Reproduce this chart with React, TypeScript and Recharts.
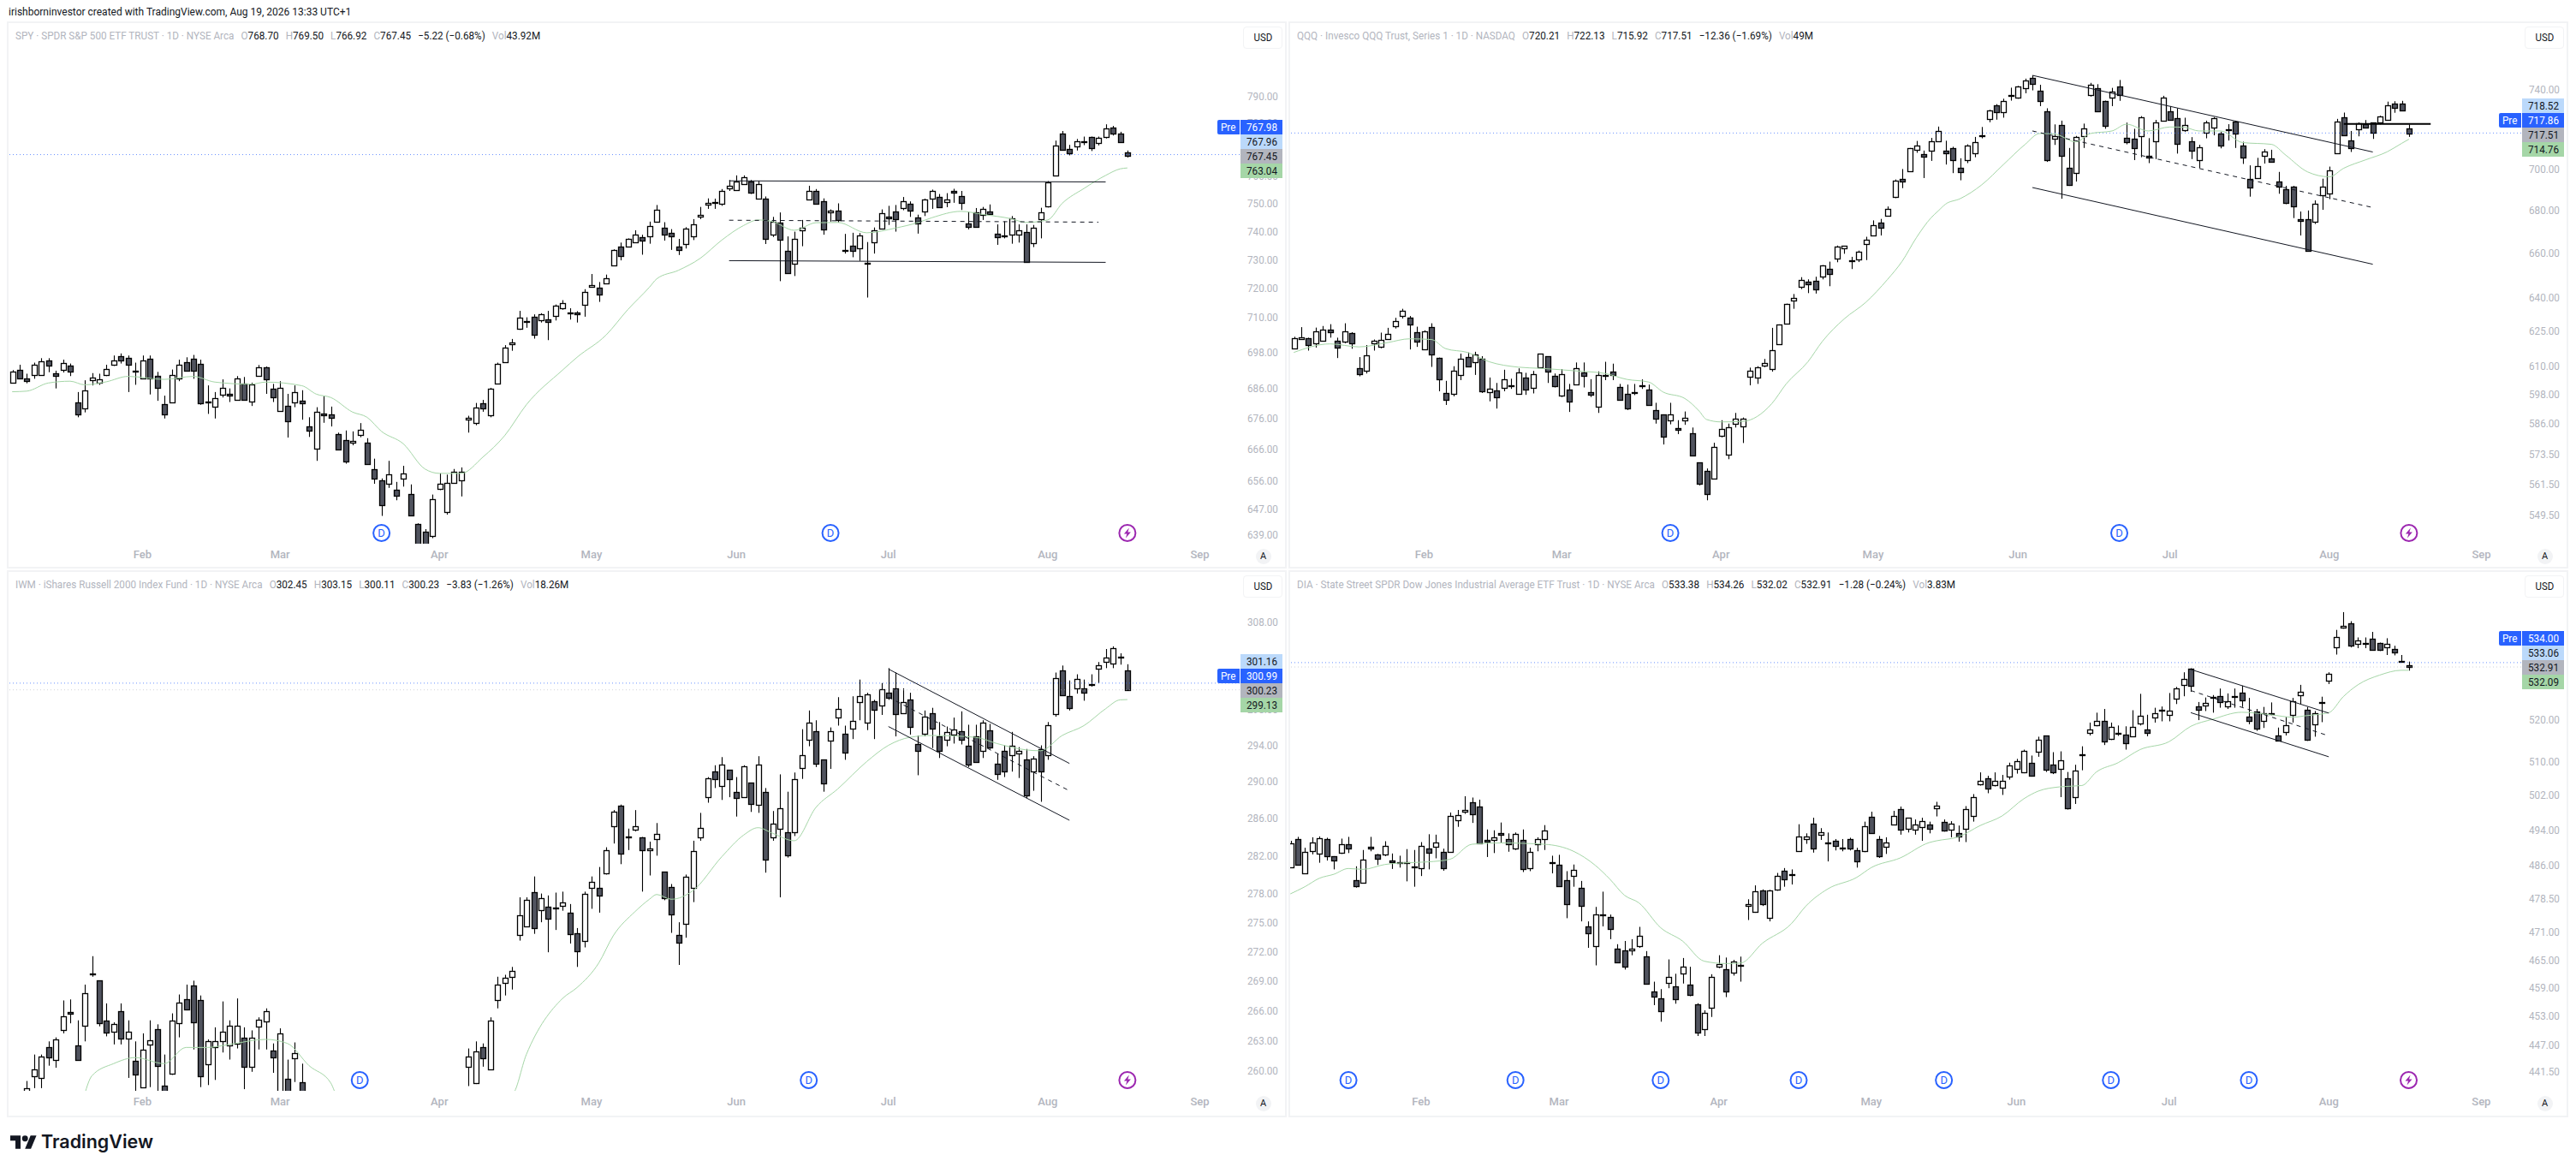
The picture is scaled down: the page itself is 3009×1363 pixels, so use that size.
import React from 'react';
import { ComposedChart, Bar, Line, XAxis, YAxis, ReferenceLine } from 'recharts';

type Candle = number[] | null; // [open, high, low, close]

const SLOTS = 170;
const monthTicks = [18, 37, 59, 80, 100, 121, 143, 164];
const monthLabels = ['Feb', 'Mar', 'Apr', 'May', 'Jun', 'Jul', 'Aug', 'Sep'];

const spyCandles: Candle[] = [
  [687.7,692,687.7,691.6],[692.1,693.8,689.1,689.1],[689.3,690.8,687.6,688.5],[690.3,694.5,689.1,693.9],[690.3,696,690.3,695],
  [695.2,696,691.3,693.5],[690.8,691.8,685.9,690],[692,695.5,691.2,694.4],[693.6,694.2,690,691.5],[681.2,684.7,676.4,677.4],
  [679.4,688.6,678,685.1],[688.6,691,686.9,689.4],[687.7,690.8,687.1,688.9],[690.3,693.8,690,692.4],[693.7,696.9,693.4,695.2],
  [696.6,697.6,694.2,695.1],[696,696.9,684.7,693.7],[691.9,694.5,687.1,691.7],[689.1,696.9,689.1,695.2],[695.8,696.9,683.9,689.1],
  [690,691.4,681.8,686],[680.7,683.5,676,677.4],[681.2,692.2,681.1,690.3],[689.1,695.5,688.3,693.7],[694.6,696.3,691.8,691.8],
  [695.9,697.1,689.1,691.8],[694.1,695.5,680.5,681],[681.6,686.9,677.5,681.5],[679.9,684.7,676,682.7],[683.7,688.9,682.9,686],
  [684.1,685.9,681.4,683.5],[682.1,690,681.9,689.1],[687.4,689.7,681.9,682.1],[681.6,687.8,680.1,687.1],[690,693.7,690,692.9],
  [692.9,693.2,684.1,688.8],[685.9,687.4,681.4,682.9],[678.5,688.3,678.2,686],[680.1,684.1,669.8,675],[681.2,686.9,679.7,684.8],
  [681.8,685.3,675.6,681],[673.3,676.4,670,672.1],[666.2,679.7,662.3,678.1],[677.6,683.3,674.6,677.1],[677.4,679.9,673.4,676.2],
  [671,671.4,665.9,665.9],[669,672.1,661.4,662.1],[668.1,671.8,667.3,668.7],[670.6,674.5,669.9,672.4],[668.1,669.6,661.2,661.2],
  [659.6,663,655,656.7],[656.2,656.7,644.9,648.2],[655.1,662.3,653.7,657.9],[653.1,655.6,649.8,651.2],[656.5,660.7,654.1,658.4],
  [651.7,654.8,644.9,645.1],[642.5,642.6,632,634.8],[640.1,640.8,630,632.6],[638.8,651.6,638,650.1],[653.5,658.3,653,655],
  [646.2,657.9,645.3,655.4],[655.4,659.7,655.2,658.7],[656.2,660.2,651,658.9],[675.6,676.9,671.4,676.2],[674.6,681.1,673.8,679.6],
  [681,682.1,678.2,679.3],[677,686.1,676.4,685.9],[687.4,694.5,687.4,694.1],[694.8,700.4,694.5,699.6],[700.6,702.5,698.5,701.2],
  [705.9,712.1,705.6,709.8],[708.5,709.9,706.3,708.6],[710,710.9,702.6,703.9],[708.8,711.3,708.1,710.9],[709.1,712.1,702.1,708.4],
  [710.5,714.3,708.8,713.8],[713,715.8,712.5,714.9],[711.3,713,709.1,711.4],[711.4,712,708.1,710.9],[714.3,719.6,710.1,718.5],
  [720.5,724.9,720.3,721.1],[720,722.1,715.2,717.8],[721.5,724.7,721.5,723.5],[728,733.6,728,733.4],[734.5,736,729.7,731.3],
  [734.7,737.5,734.4,737.3],[736.1,740.4,736.1,738.8],[737.9,738.8,731.7,736.8],[738.2,743.5,735.6,742],[743.5,749.5,743.5,747.9],
  [741.3,743.3,736.7,738.8],[739.5,740.8,733.4,738.2],[734.5,737.3,731.6,733.4],[735.5,741.5,733.9,740.9],[738.2,744.4,736.9,742.5],
  [745.3,748.8,744.4,746],[749.7,751.9,748.1,750.4],[750.7,751.8,748.1,750.3],[750,755.3,749.2,754.5],[755.7,758.6,754.6,756.4],
  [755,760.3,754.9,758.2],[757,760.3,756.9,759.6],[758.1,758.6,753.5,754.1],[751.9,758.2,751.6,757],[751.9,752.6,735.5,737.3],
  [738.8,745.2,738,743.3],[743.2,746.8,722.4,736.9],[733.1,738.2,725.2,725.2],[728.6,739.9,724.2,737.3],[740.4,744.1,734.7,741.3],
  [751.6,756.5,751.5,754.7],[754.6,755.3,750,750],[750.9,751.9,738.8,740.7],[746.7,747.9,743.5,747.6],[747.6,750.1,743.2,744.1],
  [733.5,739.1,732.1,733.4],[734.9,739.5,730.8,733],[733.9,739.4,729.5,738.5],[728.7,736.2,716.7,728.5],[736.1,741.4,732.1,740.5],
  [740.9,747.9,740.9,746.5],[745.3,749.2,742.3,744.7],[747.2,749.5,739.9,744.4],[748.5,752.4,747.6,750.9],[750,750.8,745.2,747.6],
  [745.1,746,739.2,742.8],[747.2,751.8,745.5,751.6],[751.9,755.1,748.1,754.7],[752.3,753.5,748.4,748.8],[750.7,753.8,748.7,751.6],
  [754.5,755.4,750.3,754.1],[752.6,754.6,747.7,750.4],[742.9,747.1,740.7,741.6],[746.9,748.4,741.5,741.6],[746,748.8,744.1,748.1],
  [747.2,749.7,746.1,746.3],[739.1,742.5,735.2,737.9],[738.6,743.6,737.5,738.2],[738.8,745.5,735.6,744.8],[738.8,742.5,736,740.3],
  [739.7,742.5,729.1,729.1],[735.7,742.3,734.4,741.3],[744.4,748.5,737.5,746.7],[748.9,758.2,748.6,757.7],[760.4,773.2,760.3,771.2],
  [775.7,776.8,769.5,769.6],[770,771.6,767.7,768.4],[770.9,773.8,769.5,773.1],[772.8,774.7,771.5,772.6],[774.5,774.7,769.3,770.3],
  [772.3,774.7,771.4,774.3],[774.7,779.3,774,777.6],[778.2,778.7,775.1,775.9],[775.9,776.5,772.4,772.6],[768.7,769.5,766.92,767.45],
];

const qqqCandles: Candle[] = [
  [617.5,622.5,617.3,621.9],[621.6,626.7,621.3,622.4],[621.7,622.1,616.5,619],[619.8,626.5,617.8,624.9],[620.9,627.2,620.6,625.7],
  [625.7,628,622.1,624.6],[620.9,622.1,613.3,617.9],[620.2,628.4,619.7,624.9],[624,624.5,617.3,619.7],[609.1,613.7,605.5,606.4],
  [608,618.9,606.7,614.6],[619.5,621.3,616.5,620.8],[618.3,624.3,617.5,621.3],[621.4,626.4,621.3,623.8],[627.2,630.8,626.1,629.4],
  [631.6,634.8,630.5,633.9],[630.9,631.6,617,628],[624.3,626.9,618.1,620.5],[617.1,625.3,617,624.8],[626.9,628.4,609.5,614.9],
  [613.5,613.5,599.2,604.2],[598.5,603.6,593.5,595.5],[598.3,609.8,597.1,607.9],[606,615.2,603.9,612.9],[613.8,615.7,609.7,609.7],
  [611.6,616,606.1,614.9],[613,614.1,598.5,599.1],[598.8,605,595,600.3],[599.5,602.7,592,596.6],[600.6,608.3,599.2,604.2],
  [601.7,604.5,600.2,601.3],[598.3,608.9,598,607.2],[604.8,607,597.7,599.8],[600.6,607.8,598.3,606.4],[609.4,615.2,609.4,615.2],
  [614.1,614.1,602.7,607.5],[605.8,606.7,600.8,601.3],[597.4,608.6,596.8,606.4],[599.8,602.3,590.6,594.8],[602,611.4,602,609],
  [607.2,611.4,600.8,605.6],[598.8,604.3,596.8,597.9],[592.7,607.6,590.2,606.1],[606.1,611.7,603.9,605.9],[607.5,610.9,603.9,606.1],
  [600.9,602.3,595.6,595.6],[598,602,591.4,592],[598.8,602.3,597.6,598.6],[601.6,604.2,600.2,601.4],[599.8,602,593.5,593.5],
  [591.4,594.4,585.8,587.8],[589.6,589.6,577.3,580.4],[587.2,594.4,585.5,589.6],[584,587.2,581.5,583.3],[587.2,590.8,585.3,588.2],
  [581.9,584.2,572.9,572.9],[570.1,570.1,561,561.6],[566.8,567.7,555.2,557.5],[563.6,578,563.6,576.4],[580.9,587.2,580.2,583.7],
  [573.2,585.8,571.4,584.3],[585.6,590.2,584.2,587.8],[584.6,588.3,577.9,587.8],[605.2,609.2,601.7,607.9],[604.9,609.8,602.3,609.4],
  [610,612.9,609.4,611.3],[608.6,626.4,607.5,616.8],[619.4,627.9,619.4,627.9],[628.2,637.1,627.9,636.9],[638.5,641.4,634.8,639.8],
  [644.7,649,643.6,647.7],[646.9,648,641.8,645.7],[647.2,649.2,641.6,643.6],[649.2,654.5,648,654.2],[652.7,656.1,644.9,650.3],
  [657.3,663.5,655.8,663],[662.1,663.3,659.7,663.3],[656.8,658.3,652.7,656.6],[657.2,661.2,655.9,660.5],[664.3,667.6,656.8,666.4],
  [668.2,675.3,668.2,673.2],[674.1,676,668.2,672],[677.4,681.9,677.4,680.8],[686.6,694.9,685.9,694.5],[695.3,700,690.7,694],
  [698.9,710.4,698.7,710.4],[709.3,713.9,708,711.8],[707.3,709.1,695.6,706],[709.1,715.4,704,713.7],[713.8,721.1,713.4,718.7],
  [708.9,714,702.2,707.6],[710.2,711,698,704.5],[700.4,705.3,694.5,698.7],[704.4,712.2,702.9,711.8],[707.8,715.9,705.8,713.3],
  [716.3,720.9,715.2,716.9],[724.8,729.6,723.3,729.1],[731.7,732.5,724.6,728.3],[728.3,735.3,725.6,734.3],[737,741,734.3,736.6],
  [735.7,741.9,735.3,741.5],[740.9,745.7,738.1,744.9],[745.9,747.4,739.6,742.8],[739.2,742.5,731.5,734.3],[728.7,730.4,703.5,704.4],
  [714.9,722.2,711.9,716.5],[721.7,724.1,685.6,706.7],[700.4,710.4,691.8,692.3],[697.9,716.4,693.9,715.8],[716.5,722.6,710.4,720],
  [737,743.5,736.4,742.6],[740.9,742.8,728.5,728.7],[734,734.3,720,721.3],[735.7,740.9,731.5,739],[741.5,745,734.2,737.4],
  [715.3,723.1,712.2,713.1],[714.9,720,704.4,710.2],[716.2,726.4,705.8,725.6],[706.7,715.3,702.9,705.8],[713.6,724.5,704.9,723.4],
  [723.9,736.8,723.7,736],[728.7,731.5,724.4,724.6],[725.4,730.4,707.6,712.4],[719.5,725.6,718.5,722],[713.6,715.8,704.9,708.9],
  [704.5,712,700.4,710.9],[717.8,724.1,715.2,723.1],[720.6,725.9,716.7,725.2],[717.4,718.5,710.2,711.6],[719.6,722.3,714.1,719.1],
  [723.6,724.1,710.4,717.4],[711.5,713.5,702.5,705.5],[695,701.8,686.6,691.1],[695.6,705.5,695.3,701.6],[706.4,709.8,702.7,708.5],
  [705.1,709.5,703.2,703.5],[694.1,698.6,688,691.6],[690,691.8,683,683.7],[691.3,691.8,676.4,682],[675.9,679.5,668.2,675.2],
  [675.7,680,661.2,661.2],[674.8,684.8,673.6,683.3],[687.4,695.3,680.3,691.6],[688,701.2,685.4,699.5],[707.9,725,707.6,723.6],
  [725.6,728.2,716.7,716.9],[714,718.9,708.4,710.5],[719.6,723.2,716.2,722.6],[722.2,724.4,720.4,720.6],[723,723.2,714.9,717.8],
  [723,726.6,722.2,726.4],[724.6,733.8,724.1,731.7],[733,734,728.1,730.4],[732.7,734.2,729,729.4],[720.21,722.13,715.92,717.51],
];

// most of IWM's early candles sit below the visible price range, those are null
const iwmCandles: Candle[] = [
  null,null,[257.3,259,257,258.3],[259.5,261.6,258.3,260.1],[259.3,261.6,258.3,261.4],
  [262.3,262.9,260.5,261.3],[261.1,263.3,260.3,263.1],[264,267,263.7,265.4],[265.8,267.1,264.7,265.7],[262.5,265,261.1,261.1],
  [264.5,268.6,262.9,267.7],[269.7,271.5,269.4,269.7],[269,269,264.4,264.7],[265,266.7,263.4,263.8],[263.9,264.8,262.6,264.6],
  [265.9,266.7,262.6,263.2],[263.2,265,259.3,263.9],[261,262.9,257.7,259.6],[258.4,263.7,258.4,262.1],[262.6,265,258.4,263],
  [264.1,264.6,257.5,260.5],[258.5,261.6,257,257],[259.7,265.7,259.6,265],[264.7,267.6,263.3,266.8],[267.1,268.6,266,266.1],
  [268.5,269,262.1,264.8],[267,267.5,258.4,259.5],[260.6,263.1,258.6,262.9],[262.3,264.3,259.1,262.9],[262.9,266.9,261.8,263.9],
  [262.5,265,261.1,264.5],[262.7,267.2,262.2,264.5],[263.3,264.3,258.2,260.4],[260.4,264,259.9,263.3],[264.4,265.3,262.1,265.1],
  [264.9,266.2,262.1,265.9],[262,262.7,259.8,261.3],[257,264.2,257,263.7],[259.2,261.1,257,257],[261.2,262.8,258.9,261.7],
  [258.9,260.7,257,257],null,null,null,null,
  null,null,null,null,null,null,null,null,null,null,
  null,null,null,null,null,null,null,null,
  [260.4,262.2,258.5,261.4],[258.8,262.9,258.7,261.9],[262.3,262.7,260.4,261.2],[260.1,265.3,260.1,265],[267,269.4,266.2,268.6],
  [268.8,269.6,267.5,269.3],[269.4,270.4,268.1,270],[273.7,277.6,273.1,275.7],[274.6,277.6,274.5,277.3],[278.1,279.8,273.8,274.4],
  [276.3,278,275,277.5],[276.6,277.8,271.9,275.4],[276.5,278.1,274.2,276.5],[276.7,278.2,276.2,277.1],[276,276.9,272.8,273.8],
  [273.9,274.4,270.4,272],[273.1,278.2,272.4,278],[278.6,279.8,276.4,279.2],[278.6,280.8,276,277.8],[280.1,282.9,280,282.6],
  [285.2,286.9,283.3,286.7],[287.4,287.5,281.1,282.2],[284.05,284.9,282.6,284],[284.8,286.9,284.6,285.2],[284,284,278.2,282.6],
  [282.6,283.5,279.9,282.8],[283.8,285.5,282,284.3],[280.3,280.3,277.3,277.5],[278.7,279,273.9,275.8],[273.7,275,270.6,272.9],
  [274.8,280,273.4,279.8],[278.6,283.6,277.1,282.5],[284,286.6,283.6,285],[288.3,290.5,287.7,290.4],[291.1,291.8,289.3,290.3],
  [289.5,292.7,288,291.9],[291.3,291.3,288.3,290.3],[288.9,290.5,286.2,288.2],[288.3,291.8,288.3,291.7],[289.9,289.9,286.7,287.6],
  [287.5,292.8,286.6,291.9],[288.9,289.3,280.2,281.6],[284,286.8,283.6,285.4],[284.9,290.8,277.6,287.1],[284.5,288.9,281.8,282],
  [284.5,291,284.1,290.3],[291.5,295.8,290.3,292.9],[294.6,297.9,293.9,296.5],[295.6,296.8,291.6,292],[292.4,292.4,288.9,289.8],
  [294.5,296,291.4,295.6],[297.1,299.4,296.2,298.1],[295.3,296.2,292.4,293.2],[295.9,299.5,294.7,296.7],[298.8,301.4,296.8,299.5],
  [296.5,299.9,295.7,299.7],[298.9,299.1,294.7,298],[298.5,301,297.4,300.3],[299.9,302.7,299.1,299.3],[300.4,302.2,295,297.5],
  [297.6,300.4,297.5,298.8],[299.1,299.9,295.2,296.1],[294.1,295.1,290.7,293.4],[295.3,297.9,295,297.2],[297.6,298.2,293.7,295.9],
  [295,296.6,292.6,293.4],[294.6,296.1,293.9,295.5],[295.2,297.1,294.2,295.8],[295.6,297.8,294.1,294.6],[294,296.3,291.6,291.9],
  [295,296.3,292.2,292.2],[293.4,296.8,292.6,296.5],[295.7,296.4,293.6,293.8],[292,293.1,290.2,290.8],[293.4,294,290.5,291.1],
  [292.9,295.5,291.1,294],[293.1,293.8,290.4,293.4],[292.4,293.6,288.2,288.5],[291.1,292.8,289,292.5],[293.6,294,287.8,291.1],
  [292.9,296.6,292.4,296.2],[297.5,302.2,297.2,301.6],[302.4,303,299.6,299.6],[299.5,301.3,297.9,298.2],[300.4,302,299.8,301.5],
  [300.4,301.4,299,299.9],[300.85,302,300.6,300.9],[302.6,303.4,301,303],[303.4,304.9,302.7,303.9],[303.2,305.2,302.7,305],
  [303.9,304.4,303.1,304],[302.45,303.15,300.11,300.23],
];

const diaCandles: Candle[] = [
  [485.4,491.5,485.4,490.9],[491.8,492.4,485.9,486.1],[484.1,489.9,484.1,489],[489.1,492.3,488.4,491.2],[488.5,492.5,486.5,492.1],
  [491.8,492.2,487,488],[487.9,488,485,487],[488.7,492,488.5,490.7],[490.8,492.4,488.7,489.8],[482.6,485.7,480.9,481.3],
  [482,489.4,481.9,487.3],[490.1,492.4,489.1,489.8],[488.3,488.5,486,487.4],[488.4,491.4,488,490.4],[487.1,488.6,485.1,486.6],
  [486.7,488.1,485.4,486.6],[486.7,489.6,482.3,486.6],[485.6,489.4,481.1,485.5],[485.3,491.2,483.5,490.4],[489.7,493,485,488.7],
  [490.2,492.9,487.5,491.1],[489,489.7,484.7,485.3],[488.9,498,488.8,497.2],[496.2,498.6,494.7,497.5],[498.2,501.8,497.7,498.6],
  [500.3,501.5,495.6,497.7],[499.4,501,491,491],[491.6,494.1,487.8,491.3],[491.7,493.9,488.7,492.2],[493.3,495.7,491.1,492.9],
  [491.9,493.2,489,490.8],[489.7,493.4,489.4,493],[491.6,494.1,484.4,485.1],[485.3,489.9,484.6,489],[490.7,492.3,489.1,491.8],
  [491.8,495.1,489.4,493.9],[486.7,488.1,484.1,486.6],[486.1,488.3,481.2,481.3],[482.6,484.6,474.1,477.2],[483.5,486.1,481.1,484.9],
  [480.9,482.4,473.4,476.8],[472.3,473.4,467.6,470.8],[467.9,476.6,463.8,475],[474.9,480,472.3,474.8],[474.4,474.9,469.5,471.7],
  [467.4,468.4,464.4,464.4],[467,469.1,462.9,463.5],[467,469.5,466,467.4],[467.9,472.2,467.6,470.3],[465.7,466.9,459.9,459.9],
  [458.2,460.3,455.3,457.1],[456.7,458.7,451.8,454],[460,465.1,458.9,461.3],[459.3,462,455.6,456.5],[462.1,465.4,459.9,463.6],
  [459.6,463.5,457.2,457.4],[455.5,455.7,448.8,449.5],[450.2,454.2,448.8,453.6],[454.8,461.9,452.8,461.3],[463.5,466,463.2,464],
  [463,465.5,457,458.2],[462.2,465,461.6,464.7],[463.9,465.7,460.3,463.8],[476.9,478.3,473.7,477.3],[475.5,481.4,475.3,480],
  [480.3,480.5,476.8,477.3],[474.2,480.4,473.4,480.2],[480.5,484.2,480.2,483.6],[484.6,485.3,481.1,482.8],[484,485,481.6,483.9],
  [489.2,495.3,489,492.5],[491.8,493.2,490.8,492.5],[495.4,496.8,488.8,489.7],[492.9,494.4,491.7,493.5],[491.2,493.4,486.8,490.9],
  [491.4,491.9,489.3,490.4],[490,491.9,489.1,489.8],[491.8,492.2,489.3,489.7],[489.3,489.9,485.4,486.9],[489.2,495.9,488.9,494.9],
  [497,498.2,493.2,493.3],[491.8,492.6,487.6,487.9],[490.2,492.3,488.5,491.2],[495.2,498.4,495.1,497.2],[498.8,499.4,492.9,494.1],
  [494.3,496.8,493.4,496.8],[494.1,496.4,492.9,495.2],[494.7,496.8,491.5,496],[495.2,495.9,493.2,494.3],[499,500.5,497.1,499.6],
  [495.9,496.4,493.6,493.8],[494.1,496,492.3,495.4],[493.3,495,491.3,492.5],[494.3,499.5,491.2,498.7],[497.2,502.3,495.9,501.6],
  [504.6,507.4,504.3,505.5],[506,506.6,502.5,503.6],[504.4,507.4,504.1,505.5],[503.8,506.8,502.1,505.4],[506.4,509.7,505.7,509.1],
  [508.3,510.6,507.1,510],[507.5,512.8,507.2,512.6],[509.6,511.4,506.4,506.6],[512.2,515.9,511.1,515.1],[516.1,516.1,507.5,508],
  [509.2,512.2,507,507.5],[508.2,512.4,501.6,510.2],[506,507.5,498.7,498.9],[501.6,509.2,500,507.8],[511.6,513.6,507.9,511.5],
  [516.8,519.3,516.2,517.6],[518.6,521.7,518.4,519.8],[519.6,522.6,513.9,514.8],[515.3,519.3,515.1,518.2],[516.8,518.6,516.1,516.6],
  [516.3,518.4,512.8,514.4],[516,522.3,515.9,518.2],[519,526.3,518.6,520.9],[517.6,521.2,516,516.8],[520.6,522.9,519.3,521.5],
  [522.3,523.2,519.6,522.2],[521.2,526.5,519.6,522.1],[525.2,528,523.8,527.6],[528.4,531.6,525.7,529.9],[532.4,532.6,526.8,528.2],
  [523.2,524.3,519.9,522.5],[523.4,525.4,522.1,524],[525.6,526,521.7,525.3],[525.7,527.6,522.9,524.2],[523.2,526.4,522.6,524.4],
  [525.8,527.6,522.9,525.7],[526.5,528.3,523.1,524.7],[520.7,525.3,518.9,519.6],[522,522.6,517.3,517.8],[519.7,523.1,518,521.5],
  [521.5,524.2,521.1,521.3],[516.1,518.1,514.8,515],[517.1,520.7,516.2,518.6],[521.1,525.3,519.3,524.5],[526,528.5,523.7,526.7],
  [522.3,523.1,514.9,515.2],[518.8,522.1,515.9,521.5],[524.2,525.6,519.4,524],[529.6,531.6,528.7,531.2],[537.8,542.2,536,540.4],
  [542.8,546.7,542.5,543.2],[543.8,544.4,537.8,538.2],[538.7,540.3,537.6,539.6],[538.9,540.3,537.6,538.7],[539.9,541.7,537,537.2],
  [538.9,539,536.9,537.2],[537.8,540.1,535.9,538.7],[537.3,538.2,535.8,536.6],[534.4,535.9,534,534.1],[533.38,534.26,532.02,532.91],
];

// moving average, read off at the bends: [bar, price]
const spyEma = [[0,684.8],[2,685],[5,687.7],[8,688.3],[10,687.1],[13,688.1],[16,689.9],[21,688.9],[25,689.9],[28,688],[33,687.3],[35,688],[40,686.8],[42,684],[44,682.9],[47,678.1],[49,676.4],[51,671.8],[54,667.8],[57,659.7],[59,658.3],[62,658.3],[65,663.5],[68,670.4],[71,680.5],[76,692],[78,696.3],[82,703.8],[85,712.5],[88,720.3],[89,723.2],[92,726.2],[95,730.4],[98,736.9],[101,742.1],[103,744.1],[105,743.5],[108,740.4],[111,743.1],[114,743.2],[118,739.5],[122,741.2],[125,743.1],[127,744.9],[131,747.2],[134,746.1],[138,744.5],[140,743.2],[143,744.1],[145,750.1],[148,755.5],[151,760.3],[153,762.7],[154,763.04]];
const qqqEma = [[0,615.7],[5,619.4],[9,618.1],[13,620],[16,621.6],[19,621.3],[21,617.3],[24,615.7],[27,611.7],[31,609.4],[34,608.9],[39,607.8],[43,606.7],[46,604.2],[49,603.1],[51,598.9],[54,596.2],[56,590.9],[57,587.5],[59,586.5],[62,586.7],[66,594],[68,602.3],[71,611.7],[73,620.5],[76,630.3],[79,637.7],[82,648],[84,656.2],[86,667.3],[88,676.5],[89,679.8],[90,683],[92,685.6],[95,692.3],[98,702.2],[101,712.2],[103,717.6],[105,717.4],[108,713.4],[110,717.6],[113,718.9],[115,722.3],[118,718.9],[121,720.9],[123,720.7],[125,718.9],[128,718.9],[131,713.1],[135,712.2],[137,706.8],[140,698.6],[143,696.2],[145,700.4],[148,704.5],[151,708.5],[153,712.7],[154,714.76]];
const iwmEma = [[10,257.7],[11,259.5],[14,260.7],[17,261.3],[21,260.7],[24,262.3],[27,262.3],[30,262.6],[35,263.1],[38,262.7],[41,260.5],[44,258.8],[45,257.5],[69,257.7],[71,261.6],[76,267.2],[78,268.3],[81,270.8],[83,273.6],[86,276.1],[88,277.4],[89,277.9],[91,277.4],[94,278.3],[98,281.9],[101,284.2],[103,285],[105,284.4],[108,283.6],[111,287.2],[114,289.2],[118,292.2],[121,294],[124,294.9],[127,295.1],[133,294.9],[136,294.2],[140,293.5],[142,293.4],[145,295.1],[148,296.2],[151,298.1],[153,299.1],[154,299.13]];
const diaEma = [[0,479.5],[2,481.1],[4,483],[6,483.9],[8,485.2],[10,485],[13,486.1],[16,486.5],[19,486.7],[22,487.3],[25,490.7],[29,491],[35,490.7],[39,489.1],[42,485.9],[44,482.8],[46,479.2],[48,477.5],[51,472],[54,469.1],[57,464.7],[60,464.2],[62,464.3],[65,468.6],[69,472.9],[71,476.8],[74,480.6],[78,483.2],[80,485.4],[84,487.6],[88,491.1],[89,491.5],[92,492.4],[95,495],[98,497.2],[101,501.2],[103,503],[106,504],[109,504.3],[111,507.5],[114,509.7],[117,512.8],[121,514.7],[124,518.4],[127,520.1],[131,521.8],[135,521.2],[138,520.6],[140,521],[143,521.7],[145,525.6],[147,528.5],[150,530.9],[153,532.1],[154,532.09]];

const spyPriceTicks = [790,780,760,750,740,730,720,710,698,686,676,666,656,647,639];
const qqqPriceTicks = [740,700,680,660,640,625,610,598,586,573.5,561.5,549.5];
const iwmPriceTicks = [308,298,294,290,286,282,278,275,272,269,266,263,260];
const diaPriceTicks = [520,510,502,494,486,478.5,471,465,459,453,447,441.5];

// hand-drawn channels: [bar, price, bar, price]
const spyLines = [[99,758.3,151,757.9],[99,729.6,151,729]];
const spyDashed = [[99,744,150,743.3]];
const qqqLines = [[102,747.4,149,708.4],[102,691,149,654.9]];
const qqqDashed = [[102,718.9,149,681.4]];
const qqqThick = [[145,722.4,157,722.4]];
const iwmLines = [[121,302.6,146,292],[121,296.1,146,285.8]];
const iwmDashed = [[121,299.4,146,289]];
const diaLines = [[124,532.3,143,521.6],[124,521.7,143,511.1]];
const diaDashed = [[124,527.1,143,516.1]];

const spyDividends = [51, 113];
const qqqDividends = [52, 114];
const iwmDividends = [48, 110];
const diaDividends = [8, 31, 51, 70, 90, 113, 132];
const earningsBar = 154;

const BLUE = '#2962ff';
const FONT = 'Roboto, sans-serif';
const AXIS_TEXT = '#b2b5be';
const FRAME = '#f2f3f5';

const tagStyles: Record<string, { background: string; color: string }> = {
  pre: { background: BLUE, color: '#fff' },
  ext: { background: '#bbd9fb', color: '#131722' },
  close: { background: '#b2b5be', color: '#131722' },
  ema: { background: '#a5d6a7', color: '#131722' },
};

const buildRows = (candles: Candle[], ema: number[][]) => {
  const emaAt = new Map(ema.map(([i, v]) => [i, v]));
  return Array.from({ length: SLOTS }, (_, i) => {
    const c = candles[i] || null;
    return { i, range: c ? [c[2], c[1]] : null, ohlc: c, ema: emaAt.has(i) ? emaAt.get(i) : null };
  });
};

// the bar spans low..high, open and close are placed inside it on the same log scale
const CandleShape = (props: any) => {
  const { x, y, width, height, payload } = props;
  if (!payload || !payload.ohlc || !Number.isFinite(y)) return null;
  const [o, h, l, c] = payload.ohlc;
  const span = Math.log(h / l) || 1;
  const yOf = (v: number) => y + (height * Math.log(h / v)) / span;
  const cx = Math.round(x + width / 2) + 0.5;
  const top = Math.round(yOf(Math.max(o, c))) + 0.5;
  const bottom = Math.max(Math.round(yOf(Math.min(o, c))) + 0.5, top + 1);
  const down = c < o;
  return (
    <g>
      <line x1={cx} x2={cx} y1={y} y2={y + height} stroke="#000" strokeWidth={1.1} />
      <rect x={cx - 3} y={top} width={6} height={bottom - top} fill={down ? '#50535e' : '#fff'} stroke="#000" strokeWidth={1.3} />
    </g>
  );
};

const eventMarker = (kind: 'D' | 'E') => (props: any) => {
  const cx = props.x1;
  const cy = Math.max(props.y1, props.y2) - 12.5;
  if (kind === 'D') {
    return (
      <g>
        <circle cx={cx} cy={cy} r={9.5} fill="#fff" stroke={BLUE} strokeWidth={2} />
        <text x={cx} y={cy + 4.5} textAnchor="middle" fontSize={13} fontFamily={FONT} fill={BLUE}>D</text>
      </g>
    );
  }
  return (
    <g>
      <circle cx={cx} cy={cy} r={9.5} fill="#fff" stroke="#9c27b0" strokeWidth={2} />
      <path d={`M${cx + 2} ${cy - 6}L${cx - 4} ${cy + 1}H${cx - 0.5}L${cx - 2} ${cy + 6}L${cx + 4} ${cy - 1}H${cx + 0.5}Z`} fill="#9c27b0" />
    </g>
  );
};

// price labels are narrower than plain Roboto
const PriceTick = (t: any) => (
  <text
    x={0}
    y={0}
    transform={`translate(${t.x} ${t.y + 4.5}) scale(0.9 1)`}
    fontFamily={FONT}
    fontSize={13}
    fill={AXIS_TEXT}
    textAnchor="start"
  >
    {t.payload.value.toFixed(2)}
  </text>
);

const Narrow = ({ text, amount }: { text: string; amount: number }) => (
  <span style={{ display: 'inline-block', transform: `scaleX(${amount})` }}>{text}</span>
);

type PanelProps = {
  left: number; top: number; plotLeft: number; plotTop: number; plotWidth: number; plotHeight: number;
  domain: number[]; priceTicks: number[]; candles: Candle[]; ema: number[][];
  solid: number[][]; dashed: number[][]; thick?: number[][];
  dividends: number[]; lastLine: number; closeLine?: number;
  title: string; stats: string[]; change: string; volume: string;
  tags: string[][]; tagTop: number;
};

const Panel = (p: PanelProps) => {
  const rows = buildRows(p.candles, p.ema);
  const segment = (s: number[], key: string, stroke: string, width: number, dash?: string) => (
    <ReferenceLine
      key={key}
      segment={[{ x: s[0], y: s[1] }, { x: s[2], y: s[3] }]}
      stroke={stroke}
      strokeWidth={width}
      strokeDasharray={dash}
      ifOverflow="visible"
    />
  );
  const labelAt = (v: number) => monthLabels[monthTicks.indexOf(v)];
  const tagY = (k: number) => p.tagTop - p.top + k * 17;
  return (
    <div style={{ position: 'absolute', left: p.left, top: p.top, width: 1491, height: 635, boxShadow: `0 0 0 2px ${FRAME}`, overflow: 'hidden', background: '#fff', fontFamily: FONT }}>
      <div style={{ position: 'absolute', left: p.plotLeft - p.left, top: p.plotTop - p.top }}>
        <ComposedChart
          width={p.plotWidth + 53}
          height={p.plotHeight + 28}
          data={rows}
          margin={{ top: 0, right: 0, bottom: 0, left: 0 }}
          barCategoryGap={0}
        >
          <XAxis
            dataKey="i"
            type="category"
            ticks={monthTicks}
            interval={0}
            height={28}
            axisLine={false}
            tickLine={false}
            tickSize={0}
            tickMargin={8}
            tick={{ fontFamily: FONT, fontSize: 13, fontWeight: 500, fill: AXIS_TEXT }}
            tickFormatter={labelAt}
          />
          <YAxis
            orientation="right"
            scale="log"
            domain={p.domain}
            allowDataOverflow
            ticks={p.priceTicks}
            interval={0}
            width={53}
            axisLine={false}
            tickLine={false}
            tickSize={0}
            tickMargin={9}
            tick={PriceTick}
          />
          <ReferenceLine y={p.lastLine} stroke={BLUE} strokeOpacity={0.7} strokeDasharray="1 3" />
          {p.closeLine ? <ReferenceLine y={p.closeLine} stroke={AXIS_TEXT} strokeOpacity={0.6} strokeDasharray="1 3" /> : null}
          <Line dataKey="ema" type="monotone" connectNulls dot={false} stroke="#a5d6a7" strokeWidth={1} isAnimationActive={false} />
          <Bar dataKey="range" barSize={7} shape={CandleShape} isAnimationActive={false} />
          {p.solid.map((s, k) => segment(s, `s${k}`, '#131722', 1))}
          {p.dashed.map((s, k) => segment(s, `d${k}`, '#131722', 1, '5 5'))}
          {(p.thick || []).map((s, k) => segment(s, `t${k}`, '#000', 2))}
          {p.dividends.map((d) => (
            <ReferenceLine key={`e${d}`} x={d} ifOverflow="visible" shape={eventMarker('D')} />
          ))}
          <ReferenceLine x={earningsBar} ifOverflow="visible" shape={eventMarker('E')} />
        </ComposedChart>
      </div>
      <div style={{ position: 'absolute', left: 7.5, top: 7, whiteSpace: 'nowrap', fontSize: 13, lineHeight: '16px', color: AXIS_TEXT, transform: 'scaleX(0.9)', transformOrigin: 'left' }}>
        {p.title}
        {p.stats.map((s) => (
          <span key={s} style={{ marginLeft: 9 }}>
            {s[0]}<span style={{ color: '#131722' }}>{s.slice(1)}</span>
          </span>
        ))}
        <span style={{ marginLeft: 9, color: '#131722' }}>{p.change}</span>
        <span style={{ marginLeft: 9 }}>Vol<span style={{ color: '#131722' }}>{p.volume}</span></span>
      </div>
      <div style={{ position: 'absolute', left: 1442, top: 4, width: 44, height: 24, border: `1px solid ${FRAME}`, borderRadius: 4, textAlign: 'center', lineHeight: '24px', fontSize: 13, color: '#131722' }}>
        <Narrow text="USD" amount={0.88} />
      </div>
      {p.tags.map(([kind, text], k) => (
        <React.Fragment key={text}>
          {kind === 'pre' ? (
            <div style={{ position: 'absolute', left: 1412, top: tagY(k), width: 26, height: 17, background: BLUE, color: '#fff', fontSize: 13, lineHeight: '17px', textAlign: 'center', borderRadius: '2px 0 0 2px' }}>
              <Narrow text="Pre" amount={0.9} />
            </div>
          ) : null}
          <div style={{ position: 'absolute', left: 1439, top: tagY(k), width: 49, height: 17, background: tagStyles[kind].background, color: tagStyles[kind].color, fontSize: 13, lineHeight: '17px', textAlign: 'center' }}>
            <Narrow text={text} amount={0.9} />
          </div>
        </React.Fragment>
      ))}
      <div style={{ position: 'absolute', left: 1456.5, top: p.plotHeight + (p.plotTop - p.top) + 6, width: 18, height: 18, borderRadius: 9, background: FRAME, textAlign: 'center', lineHeight: '18px', fontSize: 11, color: '#131722' }}>A</div>
    </div>
  );
};

export default function App() {
  return (
    <div style={{ position: 'absolute', left: 0, top: 0, width: 3009, height: 1363, background: '#fff', overflow: 'hidden', fontFamily: FONT }}>
      <div style={{ position: 'absolute', left: 10, top: 6, fontSize: 12, lineHeight: '17px', color: '#131722', whiteSpace: 'nowrap' }}>
        irishborninvestor created with TradingView.com, Aug 19, 2026 13:33 UTC+1
      </div>
      <Panel
        left={10} top={27} plotLeft={10} plotTop={29} plotWidth={1438} plotHeight={606}
        domain={[636.3, 817.7]} priceTicks={spyPriceTicks} candles={spyCandles} ema={spyEma}
        solid={spyLines} dashed={spyDashed} dividends={spyDividends} lastLine={767.98}
        title="SPY · SPDR S&P 500 ETF TRUST · 1D · NYSE Arca"
        stats={['O768.70', 'H769.50', 'L766.92', 'C767.45']} change="−5.22 (−0.68%)" volume="43.92M"
        tags={[['pre', '767.98'], ['ext', '767.96'], ['close', '767.45'], ['ema', '763.04']]} tagTop={140}
      />
      <Panel
        left={1507} top={27} plotLeft={1507} plotTop={29} plotWidth={1438} plotHeight={606}
        domain={[538.6, 774.3]} priceTicks={qqqPriceTicks} candles={qqqCandles} ema={qqqEma}
        solid={qqqLines} dashed={qqqDashed} thick={qqqThick} dividends={qqqDividends} lastLine={717.86}
        title="QQQ · Invesco QQQ Trust, Series 1 · 1D · NASDAQ"
        stats={['O720.21', 'H722.13', 'L715.92', 'C717.51']} change="−12.36 (−1.69%)" volume="49M"
        tags={[['ext', '718.52'], ['pre', '717.86'], ['close', '717.51'], ['ema', '714.76']]} tagTop={115}
      />
      <Panel
        left={10} top={668} plotLeft={10} plotTop={669} plotWidth={1438} plotHeight={605}
        domain={[258.04, 313.8]} priceTicks={iwmPriceTicks} candles={iwmCandles} ema={iwmEma}
        solid={iwmLines} dashed={iwmDashed} dividends={iwmDividends} lastLine={300.99} closeLine={300.23}
        title="IWM · iShares Russell 2000 Index Fund · 1D · NYSE Arca"
        stats={['O302.45', 'H303.15', 'L300.11', 'C300.23']} change="−3.83 (−1.26%)" volume="18.26M"
        tags={[['ext', '301.16'], ['pre', '300.99'], ['close', '300.23'], ['ema', '299.13']]} tagTop={764}
      />
      <Panel
        left={1507} top={668} plotLeft={1503} plotTop={669} plotWidth={1442} plotHeight={605}
        domain={[437.5, 556.8]} priceTicks={diaPriceTicks} candles={diaCandles} ema={diaEma}
        solid={diaLines} dashed={diaDashed} dividends={diaDividends} lastLine={534} closeLine={532.91}
        title="DIA · State Street SPDR Dow Jones Industrial Average ETF Trust · 1D · NYSE Arca"
        stats={['O533.38', 'H534.26', 'L532.02', 'C532.91']} change="−1.28 (−0.24%)" volume="3.83M"
        tags={[['pre', '534.00'], ['ext', '533.06'], ['close', '532.91'], ['ema', '532.09']]} tagTop={737}
      />
      <svg style={{ position: 'absolute', left: 12, top: 1326 }} width={31} height={16} viewBox="0 4 36 18">
        <path d="M14 22H7V11H0V4h14v18zM28 22h-8l7.5-18h8L28 22z" fill="#131722" />
        <circle cx={20} cy={8} r={4} fill="#131722" />
      </svg>
      <div style={{ position: 'absolute', left: 48, top: 1319, fontFamily: 'Inter, sans-serif', fontWeight: 600, fontSize: 21.5, lineHeight: '28px', color: '#131722' }}>TradingView</div>
    </div>
  );
}
